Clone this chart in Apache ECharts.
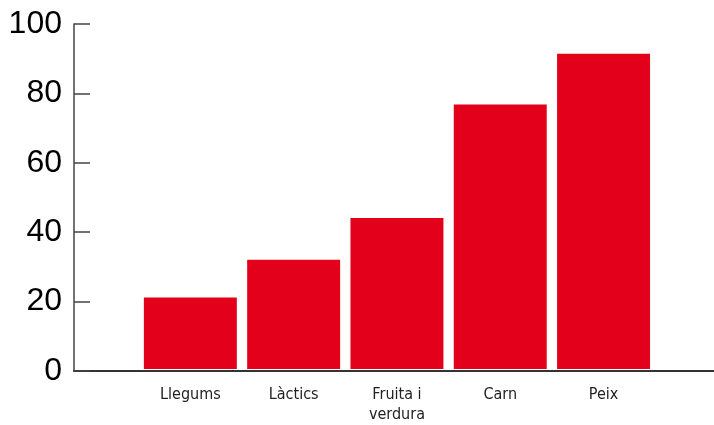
<!DOCTYPE html>
<html><head><meta charset="utf-8">
<script src="https://cdn.jsdelivr.net/npm/echarts@6/dist/echarts.min.js"></script>
<style>html,body{margin:0;padding:0;background:#fff}#c{width:714px;height:425px}</style>
</head><body><div id="c"></div>
<script>
const categories = ['Llegums', 'Làctics', 'Fruita i\nverdura', 'Carn', 'Peix'];
const values = [20.7, 31.7, 43.8, 76.7, 91.4];
const yTicks = [0, 20, 40, 60, 80, 100];

const chart = echarts.init(document.getElementById('c'));
chart.setOption({
  animation: false,
  grid: [
    {left: 74, right: 0, top: 24, bottom: 54},
    {left: 138.7, width: 516.5, top: 24, bottom: 54}
  ],
  xAxis: [
    {gridIndex: 0, type: 'value', min: 0, max: 1,
     axisLine: {show: true, lineStyle: {color: '#333', width: 2}},
     axisTick: {show: false}, axisLabel: {show: false}, splitLine: {show: false}},
    {gridIndex: 1, type: 'category', data: categories, boundaryGap: true,
     axisLine: {show: false}, axisTick: {show: false}, splitLine: {show: false},
     axisLabel: {color: '#222', fontFamily: '"DejaVu Sans Condensed", "Liberation Sans Narrow", sans-serif', fontSize: 16, lineHeight: 20, margin: 16}}
  ],
  yAxis: [
    {gridIndex: 0, type: 'value', min: yTicks[0], max: yTicks[yTicks.length-1], interval: 20,
     axisLine: {show: true, lineStyle: {color: '#444', width: 1.5}},
     axisTick: {show: true, inside: true, length: 16, lineStyle: {color: '#444', width: 1.5}},
     axisLabel: {color: '#000', fontFamily: 'Liberation Sans', fontSize: 32, margin: 12},
     splitLine: {show: false}},
    {gridIndex: 1, type: 'value', min: 0, max: 100, show: false, splitLine: {show: false}}
  ],
  series: [{
    type: 'bar', xAxisIndex: 1, yAxisIndex: 1, data: values,
    barCategoryGap: '10%', itemStyle: {color: '#E2001A'}
  }]
});
</script></body></html>
